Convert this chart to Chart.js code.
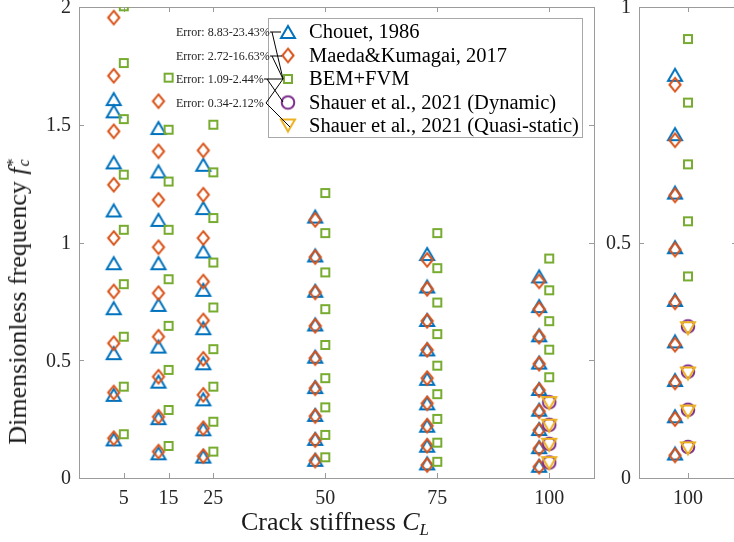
<!DOCTYPE html>
<html>
<head>
<meta charset="utf-8">
<script src="https://cdn.jsdelivr.net/npm/chart.js@4/dist/chart.umd.min.js"></script>
<style>
  html, body { margin: 0; padding: 0; background: #fff; overflow: hidden; width: 734px; height: 542px; }
  #wrap { position: relative; width: 734px; height: 542px; overflow: hidden; }
  canvas { position: absolute; top: 0; }
  #mainPanel { left: 0; }
  #zoomPanel { left: 600px; }
  .axis-title { position: absolute; font-family: "Liberation Serif", "Times New Roman", serif; font-size: 26px; color: #1a1a1a; white-space: nowrap; line-height: 1; }
  #xTitle { left: 335px; top: 524px; transform: translate(-50%, -50%); }
  #yTitle { left: 19px; top: 299px; transform: translate(-50%, -50%) rotate(-90deg); }
  .stack { display: inline-block; vertical-align: middle; position: relative; width: 0.5em; height: 1em; margin-left: 1px; }
  .stack .sup { position: absolute; left: 0; top: -0.12em; font-size: 0.62em; }
  .stack .sub { position: absolute; left: 0; top: 0.55em; font-size: 0.62em; font-style: italic; }
  sub { font-size: 0.65em; vertical-align: -0.3em; }
</style>
</head>
<body>
<div id="wrap">
  <canvas id="mainPanel" width="610" height="542"></canvas>
  <canvas id="zoomPanel" width="150" height="542"></canvas>
  <div class="axis-title" id="xTitle">Crack stiffness <i>C<sub>L</sub></i></div>
  <div class="axis-title" id="yTitle">Dimensionless frequency <i>f</i><span class="stack"><span class="sup">*</span><span class="sub">c</span></span></div>
</div>
<script>
// Crack stiffness values and the nine lowest dimensionless resonance frequencies at each
const stiffness = [5, 15, 25, 50, 75, 100];
const literatureShift = 2.25; // literature results sit just left of each stiffness

const chouet = [
  [1.609, 1.557, 1.340, 1.136, 0.912, 0.721, 0.530, 0.353, 0.164],
  [1.486, 1.302, 1.096, 0.912, 0.735, 0.558, 0.409, 0.254, 0.105],
  [1.330, 1.146, 0.962, 0.799, 0.636, 0.487, 0.334, 0.207, 0.091],
  [1.110, 0.945, 0.795, 0.652, 0.515, 0.386, 0.268, 0.166, 0.077],
  [0.951, 0.813, 0.671, 0.546, 0.421, 0.317, 0.222, 0.137, 0.062],
  [0.856, 0.730, 0.606, 0.490, 0.378, 0.290, 0.208, 0.131, 0.052]
];
const maeda = [
  [1.955, 1.708, 1.472, 1.245, 1.019, 0.792, 0.572, 0.363, 0.169],
  [1.600, 1.387, 1.181, 0.980, 0.785, 0.600, 0.430, 0.260, 0.112],
  [1.391, 1.203, 1.019, 0.834, 0.669, 0.506, 0.353, 0.211, 0.093],
  [1.096, 0.938, 0.788, 0.646, 0.509, 0.381, 0.263, 0.161, 0.074],
  [0.926, 0.803, 0.667, 0.544, 0.424, 0.317, 0.222, 0.137, 0.055],
  [0.835, 0.717, 0.600, 0.485, 0.373, 0.283, 0.203, 0.125, 0.048]
];
const bemFvm = [
  [2.003, 1.762, 1.524, 1.288, 1.054, 0.823, 0.600, 0.388, 0.186],
  [1.700, 1.479, 1.259, 1.054, 0.844, 0.646, 0.459, 0.289, 0.136],
  [1.500, 1.298, 1.104, 0.915, 0.724, 0.547, 0.388, 0.239, 0.112],
  [1.210, 1.040, 0.873, 0.717, 0.565, 0.424, 0.300, 0.183, 0.088],
  [1.040, 0.891, 0.745, 0.611, 0.477, 0.356, 0.251, 0.150, 0.069],
  [0.932, 0.797, 0.666, 0.545, 0.428]
];
const shauerStiffness = 100;
const shauerDynamic = [0.322, 0.226, 0.145, 0.066];
const shauerQuasi   = [0.318, 0.222, 0.141, 0.063];

const seriesNames = ['Chouet, 1986', 'Maeda&Kumagai, 2017', 'BEM+FVM',
                     'Shauer et al., 2021 (Dynamic)', 'Shauer et al., 2021 (Quasi-static)'];
const errorNotes = ['Error: 8.83-23.43%', 'Error: 2.72-16.63%', 'Error: 1.09-2.44%', 'Error: 0.34-2.12%'];

const mainXTicks = stiffness;
const mainYTicks = [0, 0.5, 1, 1.5, 2];
const zoomXTicks = [100];
const zoomYTicks = [0, 0.5, 1];

const COLORS = { blue: '#0072BD', orange: '#D95319', green: '#77AC30', purple: '#7E2F8E', yellow: '#EDB120' };
const SERIF = '"Liberation Serif", "Times New Roman", serif';

// Outlined marker glyphs, used as point styles
function makeMarker(shape, color) {
  const c = document.createElement('canvas');
  c.width = 22; c.height = 22;
  const g = c.getContext('2d');
  g.strokeStyle = color; g.lineWidth = 2; g.lineJoin = 'miter';
  g.beginPath();
  const m = 11;
  if (shape === 'up') {
    g.moveTo(m - 7, m + 6); g.lineTo(m + 7, m + 6); g.lineTo(m, m - 6); g.closePath();
  } else if (shape === 'down') {
    g.moveTo(m - 7, m - 6); g.lineTo(m + 7, m - 6); g.lineTo(m, m + 6); g.closePath();
  } else if (shape === 'diamond') {
    g.moveTo(m, m - 6.8); g.lineTo(m + 5.6, m); g.lineTo(m, m + 6.8); g.lineTo(m - 5.6, m); g.closePath();
  } else if (shape === 'square') {
    g.rect(m - 4, m - 4, 8, 8);
  } else if (shape === 'circle') {
    g.arc(m, m, 6.3, 0, Math.PI * 2);
  }
  g.stroke();
  return c;
}
const markers = [
  makeMarker('up', COLORS.blue),
  makeMarker('diamond', COLORS.orange),
  makeMarker('square', COLORS.green),
  makeMarker('circle', COLORS.purple),
  makeMarker('down', COLORS.yellow)
];

function columnPoints(table, shift, only) {
  const pts = [];
  table.forEach((modes, i) => {
    if (only !== undefined && stiffness[i] !== only) return;
    modes.forEach(f => pts.push({ x: stiffness[i] - shift, y: f }));
  });
  return pts;
}

function buildDatasets(only) {
  const sets = [
    columnPoints(chouet, literatureShift, only),
    columnPoints(maeda, literatureShift, only),
    columnPoints(bemFvm, 0, only),
    shauerDynamic.map(f => ({ x: shauerStiffness, y: f })),
    shauerQuasi.map(f => ({ x: shauerStiffness, y: f }))
  ];
  return sets.map((data, k) => ({
    label: seriesNames[k],
    data,
    pointStyle: markers[k],
    pointRadius: 6,
    pointHoverRadius: 6,
    showLine: false,
    order: 10 - k
  }));
}

// Box outline with inward ticks on all four sides, and the y tick labels
const framePlugin = {
  id: 'frame',
  beforeDatasetsDraw(chart) {
    const { ctx, chartArea: a, scales: { x, y } } = chart;
    ctx.save();
    ctx.strokeStyle = '#9b9b9b';
    ctx.lineWidth = 1;
    ctx.strokeRect(Math.round(a.left) + 0.5, Math.round(a.top) + 0.5,
                   Math.round(a.right - a.left), Math.round(a.bottom - a.top));
    const L = 5;
    ctx.beginPath();
    x.ticks.forEach(t => {
      const px = Math.round(x.getPixelForValue(t.value)) + 0.5;
      ctx.moveTo(px, a.bottom); ctx.lineTo(px, a.bottom - L);
      ctx.moveTo(px, a.top); ctx.lineTo(px, a.top + L);
    });
    y.ticks.forEach(t => {
      const py = Math.round(y.getPixelForValue(t.value)) + 0.5;
      ctx.moveTo(a.left, py); ctx.lineTo(a.left + L, py);
      ctx.moveTo(a.right, py); ctx.lineTo(a.right - L, py);
    });
    ctx.stroke();

    ctx.fillStyle = '#262626';
    ctx.font = '20px ' + SERIF;
    ctx.textAlign = 'right';
    ctx.textBaseline = 'middle';
    y.ticks.forEach(t => {
      ctx.fillText(String(t.value), a.left - 8, y.getPixelForValue(t.value) + 1);
    });
    ctx.restore();
  }
};

// Boxed legend plus the error notes linking the compared series
const legendPlugin = {
  id: 'boxLegend',
  afterDraw(chart) {
    const { ctx } = chart;
    const box = { left: 268, top: 18, right: 582, bottom: 137 };
    const rows = [32, 55.5, 79, 102.5, 125.5];
    const markX = 288, textX = 309;
    ctx.save();
    ctx.fillStyle = '#fff';
    ctx.fillRect(box.left, box.top, box.right - box.left, box.bottom - box.top);
    ctx.strokeStyle = '#a8a8a8';
    ctx.lineWidth = 1;
    ctx.strokeRect(box.left + 0.5, box.top + 0.5, box.right - box.left, box.bottom - box.top);
    ctx.font = '20.5px ' + SERIF;
    ctx.fillStyle = '#000';
    ctx.textBaseline = 'middle';
    ctx.textAlign = 'left';
    chart.data.datasets.forEach((ds, k) => {
      ctx.drawImage(markers[k], markX - 11, rows[k] - 11);
      ctx.fillText(ds.label, textX, rows[k] + 1);
    });

    // error notes, each tied to the two series it compares
    ctx.font = '12px ' + SERIF;
    ctx.fillStyle = '#222';
    const noteX = 176;
    const noteRows = [32, 56, 79, 103];
    errorNotes.forEach((t, i) => ctx.fillText(t, noteX, noteRows[i] + 1));
    ctx.strokeStyle = '#000';
    ctx.lineWidth = 1;
    ctx.beginPath();
    // Chouet vs BEM+FVM
    ctx.moveTo(270, 32); ctx.lineTo(281, 32);
    ctx.moveTo(272, 32); ctx.lineTo(283, 79);
    // Maeda vs BEM+FVM
    ctx.moveTo(270, 56); ctx.lineTo(282, 56);
    ctx.moveTo(272, 56); ctx.lineTo(283, 79);
    // BEM+FVM vs dynamic
    ctx.moveTo(264, 79); ctx.lineTo(283, 79);
    ctx.moveTo(267, 79); ctx.lineTo(283, 102);
    // BEM+FVM vs quasi-static
    ctx.moveTo(266, 103); ctx.lineTo(283, 79);
    ctx.moveTo(266, 103); ctx.lineTo(290, 127);
    ctx.stroke();
    ctx.restore();
  }
};

function makeChart(canvasId, cfg) {
  return new Chart(document.getElementById(canvasId), {
    type: 'scatter',
    data: { datasets: buildDatasets(cfg.only) },
    options: {
      responsive: false,
      animation: false,
      events: [],
      layout: { padding: { top: 7, right: cfg.rightPad, left: 0, bottom: 0 } },
      plugins: { legend: { display: false }, tooltip: { enabled: false } },
      scales: {
        x: {
          type: 'linear', min: cfg.xMin, max: cfg.xMax,
          grid: { display: false, drawTicks: false },
          border: { display: false },
          afterBuildTicks: s => { s.ticks = cfg.xTicks.map(v => ({ value: v })); },
          afterFit: s => { s.height = 64; },
          ticks: { autoSkip: false, maxRotation: 0, padding: 9, color: '#262626',
                   font: { family: SERIF, size: 20 }, callback: v => String(v) }
        },
        y: {
          type: 'linear', min: 0, max: cfg.yMax,
          grid: { display: false, drawTicks: false },
          border: { display: false },
          afterBuildTicks: s => { s.ticks = cfg.yTicks.map(v => ({ value: v })); },
          afterFit: s => { s.width = cfg.yWidth; },
          ticks: { display: false }
        }
      }
    },
    plugins: cfg.legend ? [framePlugin, legendPlugin] : [framePlugin]
  });
}

makeChart('mainPanel', {
  xMin: -5, xMax: 110, yMax: 2, xTicks: mainXTicks, yTicks: mainYTicks,
  yWidth: 79, rightPad: 16, legend: true
});
makeChart('zoomPanel', {
  only: 100, xMin: 91.5, xMax: 108.5, yMax: 1, xTicks: zoomXTicks, yTicks: zoomYTicks,
  yWidth: 39, rightPad: 13, legend: false
});
</script>
</body>
</html>
